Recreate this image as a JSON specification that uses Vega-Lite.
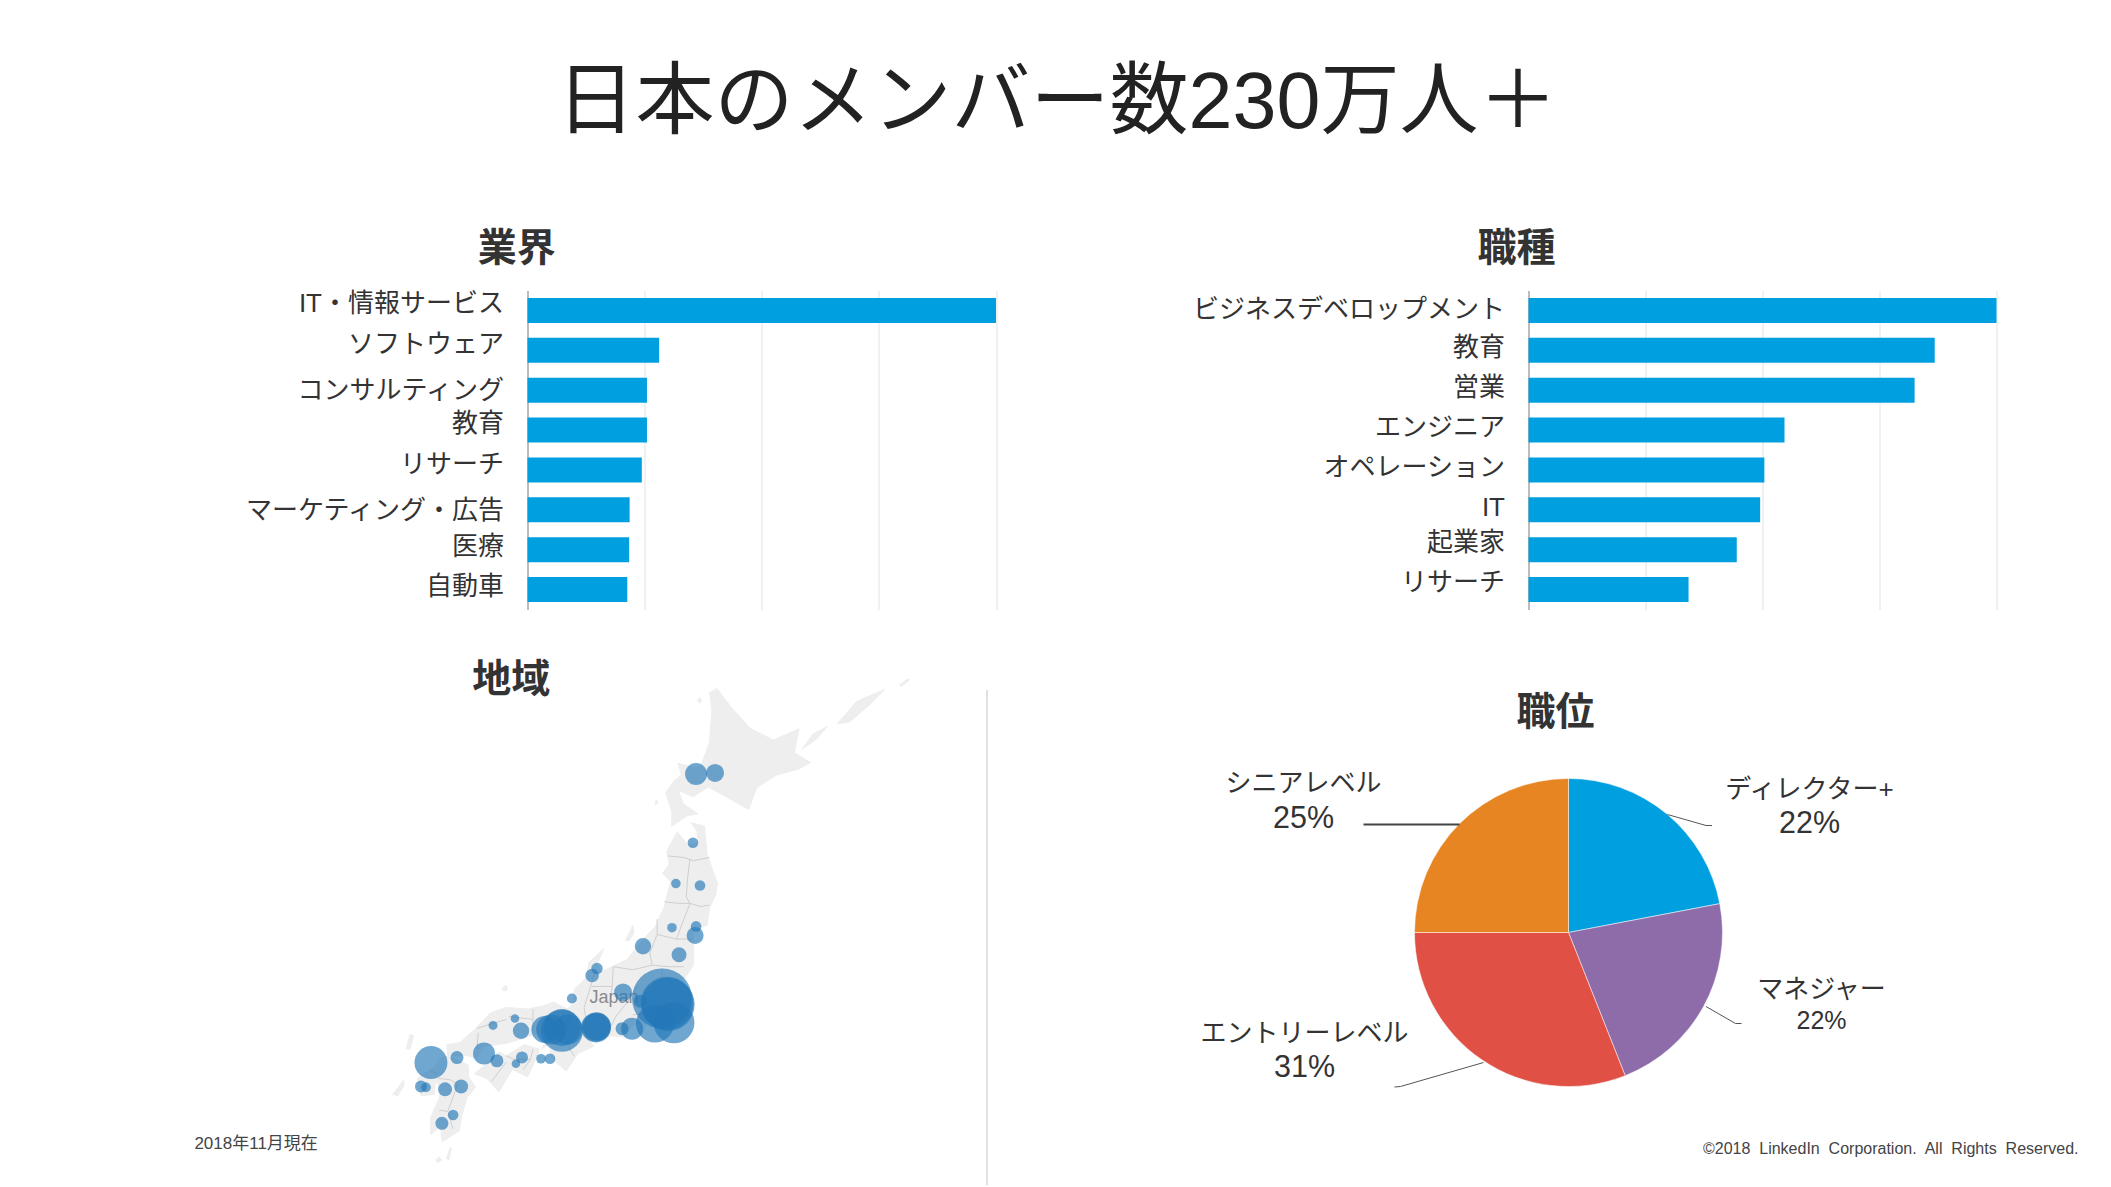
{
"$schema":"https://vega.github.io/schema/vega-lite/v6.json",
"background":"white",
"padding":{"left":193.5,"top":64.5,"right":0,"bottom":0},
"bounds":"flush",
"spacing":441,
"title":{"text":"日本のメンバー数230万人＋","font":"Liberation Sans, Noto Sans CJK JP","fontSize":79,"fontWeight":"normal","color":"#222222","anchor":"middle","frame":"group","dx":529.5,"offset":6,"baseline":"bottom"},
"config":{"view":{"stroke":null},"title":{"font":"Liberation Sans, Noto Sans CJK JP","fontSize":39,"fontWeight":"bold","color":"#333333","baseline":"bottom"},"axis":{"labelFont":"Liberation Sans, Noto Sans CJK JP"}},
"vconcat":[
{"hconcat":[
{"title":{"text":"業界","dx":-245,"offset":22},
"width":468.5,"height":319,
"data":{"values":[{"industry":"IT・情報サービス","share":100},{"industry":"ソフトウェア","share":28.1},{"industry":"コンサルティング","share":25.5},{"industry":"教育","share":25.5},{"industry":"リサーチ","share":24.4},{"industry":"マーケティング・広告","share":21.8},{"industry":"医療","share":21.7},{"industry":"自動車","share":21.3}]},
"mark":{"type":"bar","color":"#009fe0"},
"encoding":{
"x":{"field":"share","type":"quantitative","scale":{"domain":[0,100]},"axis":{"title":null,"values":[0,25,50,75,100],"labels":false,"ticks":false,"domain":false,"grid":true,"gridColor":"#e2e2e2","gridWidth":1}},
"y":{"field":"industry","type":"nominal","sort":null,"scale":{"paddingInner":0.37,"paddingOuter":0.185},"axis":{"title":null,"ticks":false,"domain":true,"domainColor":"#888888","labelFontSize":26,"labelColor":"#333333","labelPadding":24,"labelLimit":400,
"labelOffset":{"condition":[{"test":"datum.value=='IT・情報サービス'","value":-6},{"test":"datum.value=='ソフトウェア'","value":-5},{"test":"datum.value=='コンサルティング'","value":1},{"test":"datum.value=='教育'","value":-6},{"test":"datum.value=='リサーチ'","value":-5},{"test":"datum.value=='マーケティング・広告'","value":1}],"value":-3}}}
}},
{"title":{"text":"職種","dx":-246,"offset":22},
"width":468,"height":319,
"data":{"values":[{"role":"ビジネスデベロップメント","share":100},{"role":"教育","share":86.8},{"role":"営業","share":82.5},{"role":"エンジニア","share":54.7},{"role":"オペレーション","share":50.4},{"role":"IT","share":49.5},{"role":"起業家","share":44.5},{"role":"リサーチ","share":34.2}]},
"mark":{"type":"bar","color":"#009fe0"},
"encoding":{
"x":{"field":"share","type":"quantitative","scale":{"domain":[0,100]},"axis":{"title":null,"values":[0,25,50,75,100],"labels":false,"ticks":false,"domain":false,"grid":true,"gridColor":"#e2e2e2","gridWidth":1}},
"y":{"field":"role","type":"nominal","sort":null,"scale":{"paddingInner":0.37,"paddingOuter":0.185},"axis":{"title":null,"ticks":false,"domain":true,"domainColor":"#888888","labelFontSize":26,"labelColor":"#333333","labelPadding":24,"labelLimit":400,
"labelOffset":{"condition":[{"test":"datum.value=='ビジネスデベロップメント'","value":0},{"test":"datum.value=='起業家'","value":-7},{"test":"datum.value=='リサーチ'","value":-7}],"value":-2}}}
}}
],"spacing":532,"bounds":"flush"},
{"hconcat":[
{"title":{"text":"地域","dx":-246,"offset":-23},
"width":459.5,"height":402,
"projection":{"type":"mercator","scale":1395,"center":[139.7,35.7],"translate":[134.5,273]},
"layer":[
{"data":{"values":[
{"type":"Feature","properties":{"name":"Hokkaido"},"geometry":{"type":"Polygon","coordinates":[[[140.1,41.42],[140.1,41.87],[139.85,42.45],[140.2,42.8],[140.5,42.98],[140.35,43.33],[141.0,43.2],[141.3,43.25],[141.65,43.95],[141.75,44.9],[141.65,45.4],[141.95,45.52],[142.6,44.93],[143.35,44.35],[144.27,44.02],[145.33,44.35],[145.13,43.65],[145.8,43.35],[145.3,43.15],[144.4,42.98],[143.6,42.6],[143.25,41.93],[142.5,42.25],[141.6,42.62],[140.97,42.32],[140.37,42.52],[140.58,42.1],[141.18,41.8],[140.75,41.75],[140.1,41.42]]]}},
{"type":"Feature","properties":{"name":"Honshu"},"geometry":{"type":"Polygon","coordinates":[[[140.9,41.53],[141.45,41.42],[141.55,40.55],[141.98,39.63],[141.9,39.27],[141.65,38.85],[141.55,38.3],[141.0,38.2],[141.0,37.8],[141.0,37.0],[140.65,36.6],[140.6,36.3],[140.87,35.72],[140.3,35.15],[139.85,34.92],[139.82,35.3],[139.8,35.63],[139.65,35.4],[139.63,35.15],[139.15,35.25],[138.85,34.6],[138.75,35.08],[138.4,34.95],[138.22,34.6],[137.7,34.65],[137.05,34.58],[136.85,35.05],[136.55,34.7],[136.9,34.3],[136.25,34.05],[135.77,33.45],[135.15,33.9],[135.1,34.25],[135.4,34.65],[135.2,34.65],[134.65,34.75],[133.95,34.55],[133.35,34.4],[132.45,34.3],[132.2,34.1],[132.1,33.9],[131.55,34.0],[130.9,33.95],[130.87,34.35],[131.4,34.42],[132.05,34.9],[132.65,35.42],[133.3,35.6],[134.2,35.55],[134.8,35.65],[135.25,35.78],[135.8,35.55],[136.05,35.7],[136.1,36.2],[136.6,36.6],[136.7,37.1],[137.3,37.53],[137.05,37.05],[137.2,36.78],[138.25,37.18],[139.05,37.95],[139.42,38.25],[139.8,38.9],[140.05,39.7],[139.72,39.95],[140.0,40.25],[139.9,40.65],[140.33,41.25],[140.75,40.85],[141.15,40.9],[141.15,41.25],[140.9,41.53]]]}},
{"type":"Feature","properties":{"name":"Shikoku"},"geometry":{"type":"Polygon","coordinates":[[[134.65,34.2],[134.6,34.0],[134.18,33.25],[133.55,33.5],[133.0,32.73],[132.5,33.2],[132.0,33.35],[132.7,33.85],[133.0,34.1],[133.3,33.97],[134.05,34.35],[134.65,34.2]]]}},
{"type":"Feature","properties":{"name":"Kyushu"},"geometry":{"type":"Polygon","coordinates":[[[130.97,33.95],[131.75,33.65],[131.75,33.25],[132.05,32.9],[131.7,32.55],[131.47,31.9],[131.37,31.37],[130.67,31.0],[130.6,31.55],[130.2,31.25],[130.2,31.85],[130.38,32.2],[130.55,32.5],[130.6,32.8],[130.4,33.15],[130.35,32.65],[129.8,32.6],[129.65,33.2],[129.9,33.35],[130.4,33.62],[130.6,33.9],[130.97,33.95]]]}},
{"type":"Feature","properties":{"name":"Sado"},"geometry":{"type":"Polygon","coordinates":[[[138.2,37.8],[138.5,38.3],[138.55,38.05],[138.35,37.8],[138.2,37.8]]]}},
{"type":"Feature","properties":{"name":"Awaji"},"geometry":{"type":"Polygon","coordinates":[[[134.75,34.2],[135.0,34.6],[134.95,34.3],[134.75,34.2]]]}},
{"type":"Feature","properties":{"name":"Kunashiri"},"geometry":{"type":"Polygon","coordinates":[[[145.45,43.75],[145.9,44.2],[146.5,44.42],[146.05,44.05],[145.45,43.75]]]}},
{"type":"Feature","properties":{"name":"Etorofu"},"geometry":{"type":"Polygon","coordinates":[[[146.9,44.5],[147.7,45.15],[148.85,45.5],[148.3,45.1],[147.4,44.55],[146.9,44.5]]]}},
{"type":"Feature","properties":{"name":"Urup"},"geometry":{"type":"Polygon","coordinates":[[[149.45,45.62],[149.8,45.8],[149.85,45.76],[149.55,45.6],[149.45,45.62]]]}},
{"type":"Feature","properties":{"name":"Rishiri"},"geometry":{"type":"Polygon","coordinates":[[[141.15,45.18],[141.25,45.27],[141.33,45.18],[141.25,45.1],[141.15,45.18]]]}},
{"type":"Feature","properties":{"name":"Okushiri"},"geometry":{"type":"Polygon","coordinates":[[[139.42,42.08],[139.45,42.22],[139.55,42.15],[139.42,42.08]]]}},
{"type":"Feature","properties":{"name":"Oki"},"geometry":{"type":"Polygon","coordinates":[[[133.15,36.25],[133.3,36.33],[133.35,36.2],[133.2,36.15],[133.15,36.25]]]}},
{"type":"Feature","properties":{"name":"Tsushima"},"geometry":{"type":"Polygon","coordinates":[[[129.2,34.2],[129.35,34.7],[129.5,34.65],[129.35,34.2],[129.2,34.2]]]}},
{"type":"Feature","properties":{"name":"Goto"},"geometry":{"type":"Polygon","coordinates":[[[128.65,32.65],[129.1,33.15],[129.1,32.95],[128.85,32.6],[128.65,32.65]]]}},
{"type":"Feature","properties":{"name":"Yakushima"},"geometry":{"type":"Polygon","coordinates":[[[130.4,30.35],[130.55,30.45],[130.65,30.35],[130.5,30.25],[130.4,30.35]]]}},
{"type":"Feature","properties":{"name":"Tanegashima"},"geometry":{"type":"Polygon","coordinates":[[[130.85,30.4],[131.0,30.8],[131.05,30.75],[130.95,30.35],[130.85,30.4]]]}}
]},
"mark":{"type":"geoshape","fill":"#eeeeee","stroke":"#eeeeee","strokeWidth":1,"clip":false}},
{"data":{"values":[
{"type":"Feature","properties":{"name":"b"},"geometry":{"type":"MultiLineString","coordinates":[
[[139.95,40.5],[140.6,40.45],[141.0,40.35],[141.65,40.45]],
[[140.85,40.4],[140.75,39.8],[140.7,39.2],[140.85,39.0]],
[[139.8,39.05],[140.4,39.0],[140.85,39.0]],
[[140.85,39.0],[141.3,38.9],[141.65,38.95]],
[[140.85,39.0],[140.55,38.4],[140.3,37.85]],
[[139.5,38.0],[140.3,37.85],[140.95,37.85]],
[[139.5,38.5],[139.5,38.0],[139.2,37.4],[139.3,37.0]],
[[139.3,37.0],[140.0,36.95],[140.6,36.95]],
[[137.7,36.95],[138.5,36.85],[139.3,37.0]],
[[137.7,36.95],[137.65,36.3],[137.6,35.9]],
[[136.8,36.3],[137.65,36.3]],
[[136.95,36.8],[136.75,36.25],[136.5,35.6],[136.6,35.1]],
[[138.7,36.3],[138.3,35.8],[137.8,35.3],[137.6,34.95]],
[[138.5,35.35],[138.9,35.4],[139.15,35.25]],
[[138.7,35.9],[139.3,35.8],[139.8,35.75]],
[[139.7,36.9],[139.7,36.2],[139.8,35.75]],
[[135.7,34.7],[135.85,34.3],[136.1,33.95]],
[[135.9,35.5],[135.8,34.9],[136.0,34.8],[136.4,35.0],[136.6,35.1]],
[[134.4,35.55],[134.4,34.8]],
[[133.4,35.3],[134.4,35.2]],
[[132.1,34.9],[133.3,35.2]],
[[132.15,34.75],[132.1,34.2]],
[[133.3,33.97],[133.6,33.85],[134.3,33.85]],
[[134.4,34.2],[134.3,33.85],[134.0,33.5]],
[[132.7,33.1],[133.3,33.75]],
[[130.5,33.2],[131.0,33.15],[131.3,33.0]],
[[130.2,33.45],[130.5,33.35]],
[[131.3,33.0],[131.1,32.5],[130.9,32.05],[130.55,32.1]],
[[130.95,32.0],[131.1,31.45]]
]}}
]},
"mark":{"type":"geoshape","filled":false,"stroke":"#cfcfcf","strokeWidth":1,"clip":false}},
{"data":{"values":[{"label":"Japan","lon":137.73,"lat":35.9}]},
"mark":{"type":"text","font":"Liberation Sans","fontSize":18,"color":"#8a8a8a","clip":false},
"encoding":{"longitude":{"field":"lon","type":"quantitative"},"latitude":{"field":"lat","type":"quantitative"},"text":{"field":"label"}}},
{"data":{"values":[
{"lon":141.10,"lat":43.01,"members":484},{"lon":141.88,"lat":43.04,"members":324},{"lon":140.97,"lat":40.91,"members":114},{"lon":140.27,"lat":39.63,"members":92},{"lon":141.26,"lat":39.57,"members":114},{"lon":140.11,"lat":38.22,"members":92},{"lon":141.10,"lat":38.26,"members":114},{"lon":141.06,"lat":37.97,"members":289},{"lon":138.92,"lat":37.62,"members":269},{"lon":140.40,"lat":37.34,"members":225},{"lon":136.83,"lat":36.66,"members":185},{"lon":137.03,"lat":36.89,"members":130},{"lon":138.10,"lat":36.10,"members":324},{"lon":136.0,"lat":35.90,"members":100},{"lon":139.7,"lat":35.90,"members":3600},{"lon":139.91,"lat":35.74,"members":2809},{"lon":139.95,"lat":35.7,"members":2809},{"lon":140.19,"lat":35.09,"members":1681},{"lon":139.41,"lat":35.06,"members":1444},{"lon":138.80,"lat":35.81,"members":169},{"lon":138.47,"lat":34.89,"members":484},{"lon":138.06,"lat":34.89,"members":169},{"lon":136.99,"lat":34.93,"members":900},{"lon":137.03,"lat":34.96,"members":784},{"lon":136.99,"lat":34.93,"members":784},{"lon":135.59,"lat":34.82,"members":1764},{"lon":134.89,"lat":34.86,"members":729},{"lon":135.15,"lat":34.86,"members":900},{"lon":135.59,"lat":34.93,"members":1369},{"lon":135.82,"lat":34.86,"members":900},{"lon":133.91,"lat":34.82,"members":269},{"lon":133.66,"lat":35.23,"members":74},{"lon":132.76,"lat":35.0,"members":81},{"lon":132.39,"lat":34.05,"members":484},{"lon":132.92,"lat":33.80,"members":169},{"lon":133.95,"lat":33.91,"members":144},{"lon":133.70,"lat":33.70,"members":74},{"lon":134.73,"lat":33.87,"members":92},{"lon":135.10,"lat":33.87,"members":114},{"lon":131.28,"lat":33.91,"members":169},{"lon":130.21,"lat":33.74,"members":1089},{"lon":129.80,"lat":32.92,"members":144},{"lon":130.01,"lat":32.89,"members":92},{"lon":130.79,"lat":32.82,"members":196},{"lon":131.45,"lat":32.92,"members":196},{"lon":131.12,"lat":31.93,"members":114},{"lon":130.66,"lat":31.64,"members":169}
]},
"mark":{"type":"circle","color":"#2478b8","opacity":0.65,"clip":false},
"encoding":{"longitude":{"field":"lon","type":"quantitative"},"latitude":{"field":"lat","type":"quantitative"},"size":{"field":"members","type":"quantitative","legend":null,"scale":{"domain":[0,3600],"range":[0,3600]}}}},
{"data":{"values":[{"lon":153.05,"lat":45.48,"lon2":153.05,"lat2":29.45}]},
"mark":{"type":"rule","color":"#c4c4c4","strokeWidth":1,"clip":false},
"encoding":{"longitude":{"field":"lon","type":"quantitative"},"latitude":{"field":"lat","type":"quantitative"},"longitude2":{"field":"lon2"},"latitude2":{"field":"lat2"}}},
{"data":{"values":[{"note":"2018年11月現在","lon":123.03,"lat":30.9}]},
"mark":{"type":"text","font":"Liberation Sans, Noto Sans CJK JP","fontSize":17,"color":"#444444","clip":false},
"encoding":{"longitude":{"field":"lon","type":"quantitative"},"latitude":{"field":"lat","type":"quantitative"},"text":{"field":"note"}}}
]},
{"title":{"text":"職位","dx":-13,"offset":-1},
"width":1020,"height":402,
"layer":[
{"data":{"values":[{"level":"ディレクター+","pct":22,"rank":1},{"level":"マネジャー","pct":22,"rank":2},{"level":"エントリーレベル","pct":31,"rank":3},{"level":"シニアレベル","pct":25,"rank":4}]},
"mark":{"type":"arc","outerRadius":154,"stroke":"#ffffff","strokeWidth":0.5},
"encoding":{"theta":{"field":"pct","type":"quantitative","stack":true},"order":{"field":"rank","type":"quantitative"},"color":{"field":"level","type":"nominal","legend":null,"scale":{"domain":["ディレクター+","マネジャー","エントリーレベル","シニアレベル"],"range":["#009fe0","#8e6caa","#e05044","#e68522"]}}}},
{"data":{"values":[
{"leader":"a","seq":1,"px":99,"py":-118},{"leader":"a","seq":2,"px":137.5,"py":-107},{"leader":"a","seq":3,"px":143.5,"py":-107},
{"leader":"b","seq":1,"px":137.5,"py":74},{"leader":"b","seq":2,"px":167,"py":91},{"leader":"b","seq":3,"px":173,"py":91},
{"leader":"c","seq":1,"px":-85,"py":130},{"leader":"c","seq":2,"px":-168,"py":154},{"leader":"c","seq":3,"px":-174,"py":154.5}
]},
"mark":{"type":"line","color":"#555555","strokeWidth":1},
"encoding":{"x":{"field":"px","type":"quantitative","axis":null,"scale":{"domain":[-510,510],"nice":false,"zero":false}},"y":{"field":"py","type":"quantitative","axis":null,"scale":{"domain":[-201,201],"reverse":true,"nice":false,"zero":false}},"detail":{"field":"leader"},"order":{"field":"seq","type":"quantitative"}}},
{"data":{"values":[{"leader":"d","seq":1,"px":-109,"py":-108},{"leader":"d","seq":2,"px":-205,"py":-108}]},
"mark":{"type":"line","color":"#444444","strokeWidth":2},
"encoding":{"x":{"field":"px","type":"quantitative"},"y":{"field":"py","type":"quantitative"},"order":{"field":"seq","type":"quantitative"}}},
{"data":{"values":[{"t":"ディレクター+","px":241,"py":-143},{"t":"マネジャー","px":253,"py":57},{"t":"エントリーレベル","px":-264,"py":101},{"t":"シニアレベル","px":-265,"py":-149}]},
"mark":{"type":"text","font":"Liberation Sans, Noto Sans CJK JP","fontSize":26,"color":"#333333"},
"encoding":{"x":{"field":"px","type":"quantitative"},"y":{"field":"py","type":"quantitative"},"text":{"field":"t"}}},
{"data":{"values":[{"t":"22%","px":241,"py":-109},{"t":"31%","px":-264,"py":135},{"t":"25%","px":-265,"py":-114}]},
"mark":{"type":"text","font":"Liberation Sans","fontSize":30.5,"color":"#333333"},
"encoding":{"x":{"field":"px","type":"quantitative"},"y":{"field":"py","type":"quantitative"},"text":{"field":"t"}}},
{"data":{"values":[{"t":"22%","px":253,"py":88}]},
"mark":{"type":"text","font":"Liberation Sans","fontSize":25,"color":"#333333"},
"encoding":{"x":{"field":"px","type":"quantitative"},"y":{"field":"py","type":"quantitative"},"text":{"field":"t"}}},
{"data":{"values":[{"t":"©2018\u00a0 LinkedIn\u00a0 Corporation.\u00a0 All\u00a0 Rights\u00a0 Reserved.","px":510,"py":216}]},
"mark":{"type":"text","font":"Liberation Sans","fontSize":16,"color":"#444444","align":"right"},
"encoding":{"x":{"field":"px","type":"quantitative"},"y":{"field":"py","type":"quantitative"},"text":{"field":"t"}}}
]}
],"spacing":71,"bounds":"flush"}
]
}
